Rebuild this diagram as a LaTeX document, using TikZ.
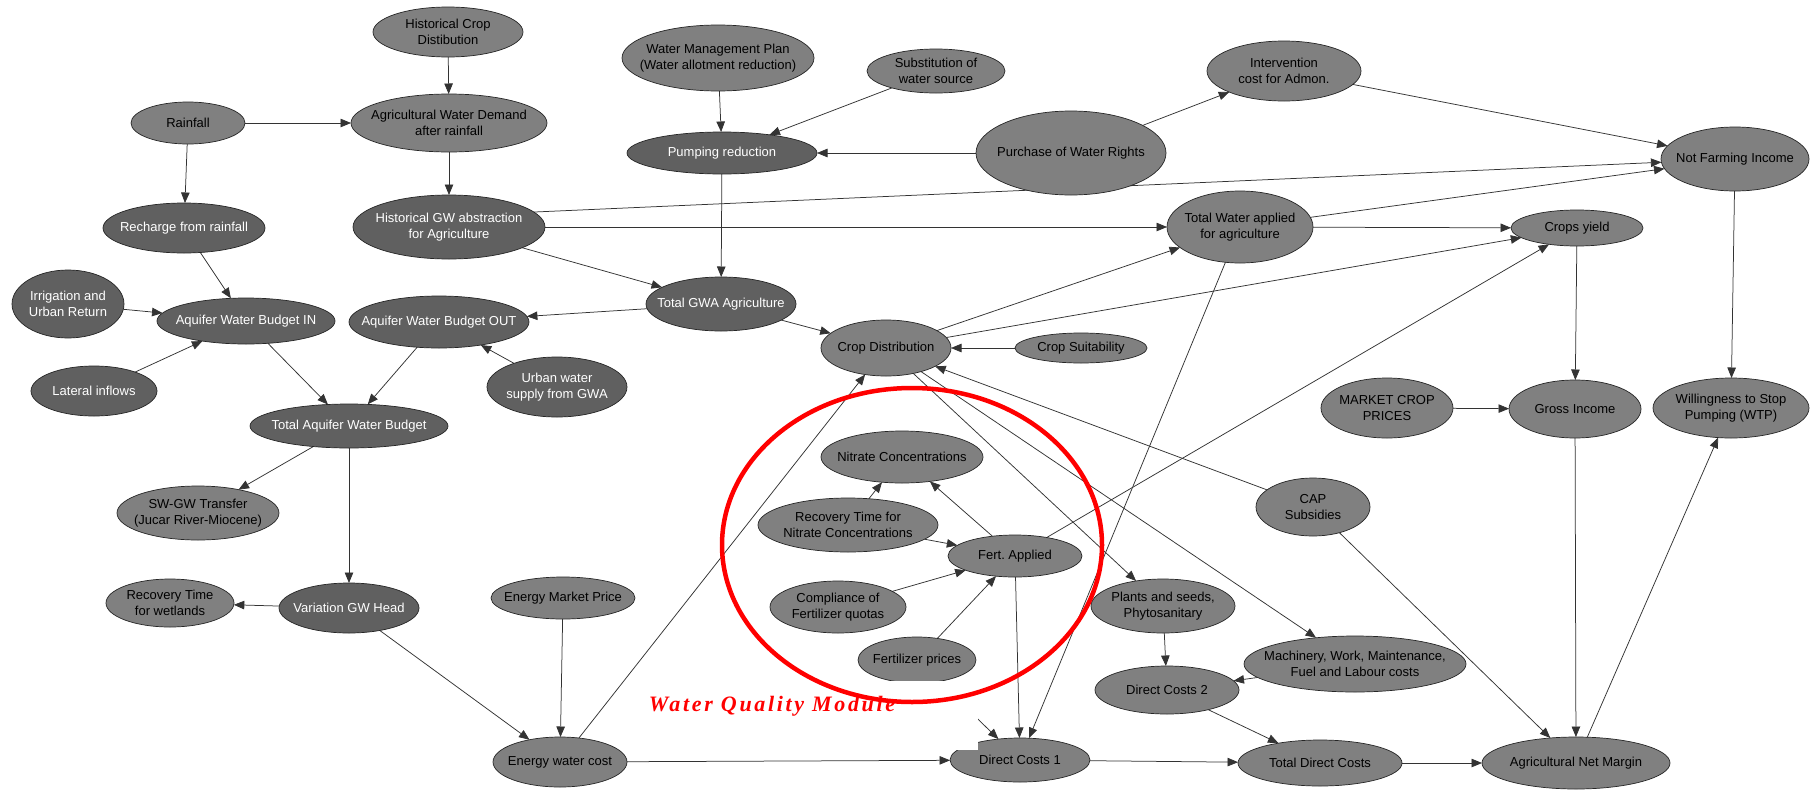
\documentclass[tikz,border=0pt]{standalone}
\usepackage{fontspec}
\setmainfont{Liberation Sans}
\newfontfamily\wqmfont[LetterSpace=12]{Liberation Serif}
\usetikzlibrary{shapes.geometric,arrows.meta}
\pgfdeclarelayer{paper}
\pgfdeclarelayer{bg}
\pgfsetlayers{paper,bg,main}
\definecolor{nodelight}{HTML}{808080}
\definecolor{nodedark}{HTML}{606060}
\definecolor{wqred}{HTML}{FF0000}
\frenchspacing
\tikzset{
  nd/.style={ellipse, draw=black!85, line width=0.7pt, fill=nodelight,
    inner xsep=-50pt, inner ysep=-22pt, outer sep=0pt,
    align=center, font=\fontsize{13}{16.5}\selectfont, text=black},
  ndk/.style={nd, fill=nodedark, text=white},
  sz/.style 2 args={minimum width=#1pt, minimum height=#2pt},
  con/.style={draw=black!80, line width=0.75pt, -{Triangle[length=10.5pt,width=8.5pt]}},
}
\begin{document}
\begin{tikzpicture}[x=1pt,y=-1pt]
\useasboundingbox (0,0) rectangle (1820,790);
\begin{pgfonlayer}{paper}
\fill[white] (0,0) rectangle (1820,790);
\end{pgfonlayer}
% nodes
\node[nd,sz={150}{50}] (hcd) at (448,32) {Historical Crop\\Distibution};
\node[nd,sz={114}{42}] (rain) at (188,123) {Rainfall};
\node[nd,sz={196}{58}] (awd) at (449,123) {Agricultural Water Demand\\after rainfall};
\node[ndk,sz={162}{50}] (rech) at (184,228) {Recharge from rainfall};
\node[ndk,sz={192}{64}] (hgw) at (449,227) {Historical GW abstraction\\for Agriculture};
\node[nd,sz={192}{66}] (wmp) at (718,58) {Water Management Plan\\(Water allotment reduction)};
\node[nd,sz={138}{44}] (sub) at (936,71) {Substitution of\\water source};
\node[ndk,sz={190}{42}] (pump) at (722,153) {Pumping reduction};
\node[nd,sz={190}{84}] (pwr) at (1071,153) {Purchase of Water Rights};
\node[nd,sz={154}{60}] (int) at (1284,71) {Intervention\\cost for Admon.};
\node[nd,sz={148}{64}] (nfi) at (1735,159) {Not Farming Income};
\node[nd,sz={146}{72}] (twa) at (1240,227) {Total Water applied\\for agriculture};
\node[nd,sz={132}{36}] (cy) at (1577,228) {Crops yield};
\node[ndk,sz={112}{68}] (irr) at (68,304) {Irrigation and\\Urban Return};
\node[ndk,sz={178}{46}] (awbin) at (246,321) {Aquifer Water Budget IN};
\node[ndk,sz={180}{52}] (awbout) at (439,322) {Aquifer Water Budget OUT};
\node[ndk,sz={126}{50}] (lat) at (94,391) {Lateral inflows};
\node[ndk,sz={140}{60}] (urb) at (557,387) {Urban water\\supply from GWA};
\node[ndk,sz={198}{44}] (tawb) at (349,426) {Total Aquifer Water Budget};
\node[nd,sz={162}{54}] (swgw) at (198,513) {SW-GW Transfer\\(Jucar River-Miocene)};
\node[ndk,sz={150}{54}] (tgwa) at (721,304) {Total GWA Agriculture};
\node[nd,sz={130}{56}] (cd) at (886,348) {Crop Distribution};
\node[nd,sz={132}{30}] (cs) at (1081,348) {Crop Suitability};
\node[nd,sz={162}{52}] (nc) at (902,457) {Nitrate Concentrations};
\node[nd,sz={180}{54}] (rtn) at (848,525) {Recovery Time for\\Nitrate Concentrations};
\node[nd,sz={134}{42}] (fa) at (1015,556) {Fert. Applied};
\node[nd,sz={136}{52}] (cfq) at (838,607) {Compliance of\\Fertilizer quotas};
\node[nd,sz={118}{46}] (fp) at (917,660) {Fertilizer prices};
\node[nd,sz={144}{54}] (pss) at (1163,606) {Plants and seeds,\\Phytosanitary};
\node[nd,sz={144}{48}] (dc2) at (1167,690) {Direct Costs 2};
\node[nd,sz={140}{44}] (dc1) at (1020,760) {Direct Costs 1};
\node[nd,sz={134}{50}] (ewc) at (560,762) {Energy water cost};
\node[nd,sz={144}{42}] (emp) at (563,598) {Energy Market Price};
\node[ndk,sz={140}{50}] (vgw) at (349,608) {Variation GW Head};
\node[nd,sz={128}{48}] (rtw) at (170,603) {Recovery Time\\for wetlands};
\node[nd,sz={132}{60}] (mcp) at (1387,408) {MARKET CROP\\PRICES};
\node[nd,sz={132}{58}] (gi) at (1575,409) {Gross Income};
\node[nd,sz={156}{60}] (wtp) at (1731,408) {Willingness to Stop\\Pumping (WTP)};
\node[nd,sz={114}{58}] (cap) at (1313,507) {CAP\\Subsidies};
\node[nd,sz={222}{56}] (mach) at (1355,664) {Machinery, Work, Maintenance,\\Fuel and Labour costs};
\node[nd,sz={164}{46}] (tdc) at (1320,763) {Total Direct Costs};
\node[nd,sz={188}{52}] (anm) at (1576,763) {Agricultural Net Margin};
% connectors
\begin{pgfonlayer}{bg}
\draw[con] (hcd) -- (awd);
\draw[con] (rain) -- (awd);
\draw[con] (rain) -- (rech);
\draw[con] (awd) -- (hgw);
\draw[con] (rech) -- (awbin);
\draw[con] (irr) -- (awbin);
\draw[con] (lat) -- (awbin);
\draw[con] (awbin) -- (tawb);
\draw[con] (awbout) -- (tawb);
\draw[con] (urb) -- (awbout);
\draw[con] (tgwa) -- (awbout);
\draw[con] (tawb) -- (swgw);
\draw[con] (tawb) -- (vgw);
\draw[con] (vgw) -- (rtw);
\draw[con] (vgw) -- (ewc);
\draw[con] (emp) -- (ewc);
\draw[con] (ewc) -- (cd);
\draw[con] (ewc) -- (dc1);
\draw[con] (hgw) -- (tgwa);
\draw[con] (hgw) -- (twa);
\draw[con] (hgw.10) -- (nfi);
\draw[con] (wmp) -- (pump);
\draw[con] (sub) -- (pump);
\draw[con] (pwr) -- (pump);
\draw[con] (pwr) -- (int);
\draw[con] (int) -- (nfi);
\draw[con] (pump) -- (tgwa);
\draw[con] (tgwa) -- (cd);
\draw[con] (cd) -- (twa);
\draw[con] (cd) -- (cy);
\draw[con] (twa) -- (cy);
\draw[con] (twa) -- (nfi);
\draw[con] (twa) -- (dc1);
\draw[con] (cs) -- (cd);
\draw[con] (cap) -- (cd);
\draw[con] (cap) -- (anm);
\draw[con] (cd) -- (pss);
\draw[con] (cd) -- (mach);
\draw[con] (fa) -- (cy);
\draw[con] (rtn) -- (nc);
\draw[con] (fa) -- (nc);
\draw[con] (rtn) -- (fa);
\draw[con] (cfq) -- (fa);
\draw[con] (fp) -- (fa);
\draw[con] (fa) -- (dc1);
\draw[con] (fp) -- (dc1);
\draw[con] (pss) -- (dc2);
\draw[con] (mach) -- (dc2);
\draw[con] (dc2) -- (tdc);
\draw[con] (dc1) -- (tdc);
\draw[con] (tdc) -- (anm);
\draw[con] (gi) -- (anm);
\draw[con] (cy) -- (gi);
\draw[con] (mcp) -- (gi);
\draw[con] (nfi) -- (wtp);
\draw[con] (anm) -- (wtp);
\end{pgfonlayer}
% label box and module ring
\fill[white] (640,681) rectangle (978,750);
\node[font=\wqmfont\fontsize{22}{24}\selectfont\bfseries\itshape, text=wqred, inner sep=0pt]
  (wqm) at (772,706) {Water Quality Module};
\draw[wqred, line width=4.5pt] (912,545) ellipse [x radius=190, y radius=157];
\end{tikzpicture}
\end{document}
